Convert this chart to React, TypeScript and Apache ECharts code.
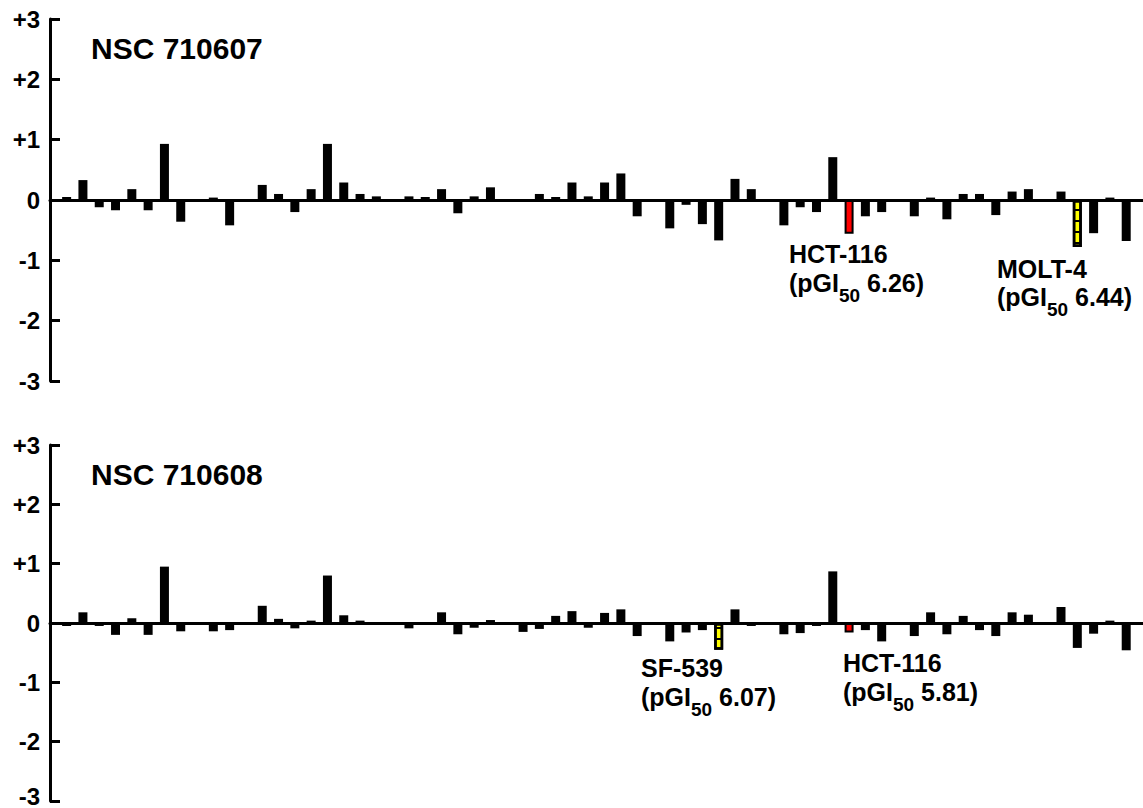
import React, { useEffect, useRef } from "react";
import * as echarts from "echarts";

// Slot index along the x axis (66 slots, null = no bar)
const topTitle = "NSC 710607";
const bottomTitle = "NSC 710608";

const topValues: (number | null)[] = [
  0.05, 0.33, -0.12, -0.17, 0.18, -0.17, 0.93, -0.36, null, 0.04,
  -0.42, null, 0.25, 0.10, -0.20, 0.18, 0.93, 0.29, 0.10, 0.06,
  null, 0.06, 0.05, 0.18, -0.22, 0.06, 0.21, null, null, 0.10,
  0.05, 0.29, 0.06, 0.29, 0.44, -0.27, null, -0.47, -0.08, -0.40,
  -0.67, 0.35, 0.18, null, -0.42, -0.12, -0.20, 0.71, -0.56, -0.27,
  -0.20, null, -0.27, 0.04, -0.32, 0.10, 0.10, -0.25, 0.14, 0.18,
  null, 0.14, -0.78, -0.55, 0.04, -0.68,
];

const bottomValues: (number | null)[] = [
  -0.05, 0.18, -0.05, -0.20, 0.08, -0.20, 0.95, -0.14, null, -0.14,
  -0.12, null, 0.29, 0.07, -0.09, 0.04, 0.80, 0.13, 0.04, null,
  null, -0.09, null, 0.18, -0.19, -0.08, 0.05, null, -0.15, -0.10,
  0.12, 0.20, -0.08, 0.17, 0.23, -0.22, null, -0.31, -0.16, -0.12,
  -0.45, 0.23, -0.05, null, -0.19, -0.17, -0.05, 0.87, -0.16, -0.12,
  -0.31, null, -0.22, 0.18, -0.19, 0.12, -0.12, -0.22, 0.18, 0.14,
  null, 0.27, -0.42, -0.18, 0.04, -0.46,
];

// highlighted cell lines: index of slot
const topRedIndex = 48; // HCT-116
const topYellowIndex = 62; // MOLT-4
const bottomRedIndex = 48; // HCT-116
const bottomYellowIndex = 40; // SF-539

const yTicks = [-3, -2, -1, 0, 1, 2, 3];

const topNotes = [
  { name: "HCT-116", pgi: "6.26" },
  { name: "MOLT-4", pgi: "6.44" },
];
const bottomNotes = [
  { name: "SF-539", pgi: "6.07" },
  { name: "HCT-116", pgi: "5.81" },
];

const FONT = "'Liberation Sans', Arial, Helvetica, sans-serif";

const redStyle = { color: "#ff0000", borderColor: "#000", borderWidth: 2 };
const yellowStyle = {
  color: "#ffff00",
  borderColor: "#000",
  borderWidth: 2.5,
  decal: {
    symbol: "rect",
    symbolSize: 1,
    color: "#000",
    dashArrayX: [1, 0],
    dashArrayY: [2, 9],
    rotation: 0,
  },
};

function buildData(values: (number | null)[], red: number, yellow: number) {
  const out: any[] = [];
  values.forEach((v, i) => {
    if (v == null) return;
    const item: any = { value: [i, v] };
    if (i === red) item.itemStyle = redStyle;
    if (i === yellow) item.itemStyle = yellowStyle;
    out.push(item);
  });
  return out;
}

function titleText(text: string, x: number, y: number) {
  return {
    type: "text",
    x,
    y,
    style: {
      text,
      fontSize: 30,
      fontWeight: "bold",
      fontFamily: FONT,
      fill: "#000",
      align: "left",
      verticalAlign: "middle",
      textAlign: "left",
      textVerticalAlign: "middle",
    },
  };
}

function noteTexts(name: string, pgi: string, x: number, y1: number, y2: number) {
  return [
    {
      type: "text",
      x,
      y: y1,
      style: {
        text: name,
        fontSize: 25,
        fontWeight: "bold",
        fontFamily: FONT,
        fill: "#000",
        align: "left",
        verticalAlign: "middle",
        textAlign: "left",
        textVerticalAlign: "middle",
      },
    },
    {
      type: "text",
      x,
      y: y2,
      style: {
        text: "(pGI{s|50} " + pgi + ")",
        fontSize: 25,
        fontWeight: "bold",
        fontFamily: FONT,
        fill: "#000",
        align: "left",
        verticalAlign: "middle",
        textAlign: "left",
        textVerticalAlign: "middle",
        rich: {
          s: {
            fontSize: 19,
            lineHeight: 19,
            fontWeight: "bold",
            fontFamily: FONT,
            fill: "#000",
            padding: [24, 0, 0, 0],
          },
        },
      },
    },
  ];
}

export default function App() {
  const ref = useRef<HTMLDivElement>(null);
  useEffect(() => {
    if (!ref.current) return;
    const chart = echarts.init(ref.current, undefined, { renderer: "svg" });
    const yAxisBase = (gridIndex: number, raiseMin: boolean) => ({
      type: "value",
      gridIndex,
      min: yTicks[0],
      max: yTicks[yTicks.length - 1],
      interval: 1,
      axisLine: { show: true, onZero: false, lineStyle: { color: "#000", width: 3 } },
      axisTick: { show: true, inside: true, length: 10, lineStyle: { color: "#000", width: 3 } },
      axisLabel: {
        color: "#000",
        fontSize: 24,
        lineHeight: 12,
        fontWeight: "bold",
        fontFamily: FONT,
        margin: 10,
        formatter: (v: number) => {
          const s = v > 0 ? "+" + v : String(v);
          return raiseMin && v === yTicks[0] ? "{lo|" + s + "}" : s;
        },
        rich: {
          lo: {
            fontSize: 24,
            lineHeight: 12,
            fontWeight: "bold",
            fontFamily: FONT,
            color: "#000",
            padding: [0, 0, 10, 0],
          },
        },
      },
      splitLine: { show: false },
    });
    const xAxisBase = (gridIndex: number) => ({
      type: "value",
      gridIndex,
      min: -1.02,
      max: 66.03,
      axisLine: { show: true, onZero: true, lineStyle: { color: "#000", width: 3 } },
      axisTick: { show: false },
      axisLabel: { show: false },
      splitLine: { show: false },
    });
    chart.setOption({
      animation: false,
      grid: [
        { left: 50, right: 0, top: 19, height: 362, outerBoundsMode: "none", containLabel: false },
        { left: 50, right: 0, top: 445, height: 356, outerBoundsMode: "none", containLabel: false },
      ],
      xAxis: [xAxisBase(0), xAxisBase(1)],
      yAxis: [yAxisBase(0, false), yAxisBase(1, true)],
      series: [
        {
          type: "bar",
          xAxisIndex: 0,
          yAxisIndex: 0,
          barWidth: 9,
          itemStyle: { color: "#000" },
          data: buildData(topValues, topRedIndex, topYellowIndex),
        },
        {
          type: "bar",
          xAxisIndex: 1,
          yAxisIndex: 1,
          barWidth: 9,
          itemStyle: { color: "#000" },
          data: buildData(bottomValues, bottomRedIndex, bottomYellowIndex),
        },
      ],
      graphic: [
        titleText(topTitle, 91, 48),
        titleText(bottomTitle, 91, 474),
        ...noteTexts(topNotes[0].name, topNotes[0].pgi, 789, 254, 283),
        ...noteTexts(topNotes[1].name, topNotes[1].pgi, 997, 269, 297),
        ...noteTexts(bottomNotes[0].name, bottomNotes[0].pgi, 641, 668, 697),
        ...noteTexts(bottomNotes[1].name, bottomNotes[1].pgi, 843, 663, 692),
      ],
    });
    return () => chart.dispose();
  }, []);
  return (
    <div
      ref={ref}
      style={{ position: "fixed", left: 0, top: 0, width: 1143, height: 808, background: "#fff" }}
    />
  );
}
